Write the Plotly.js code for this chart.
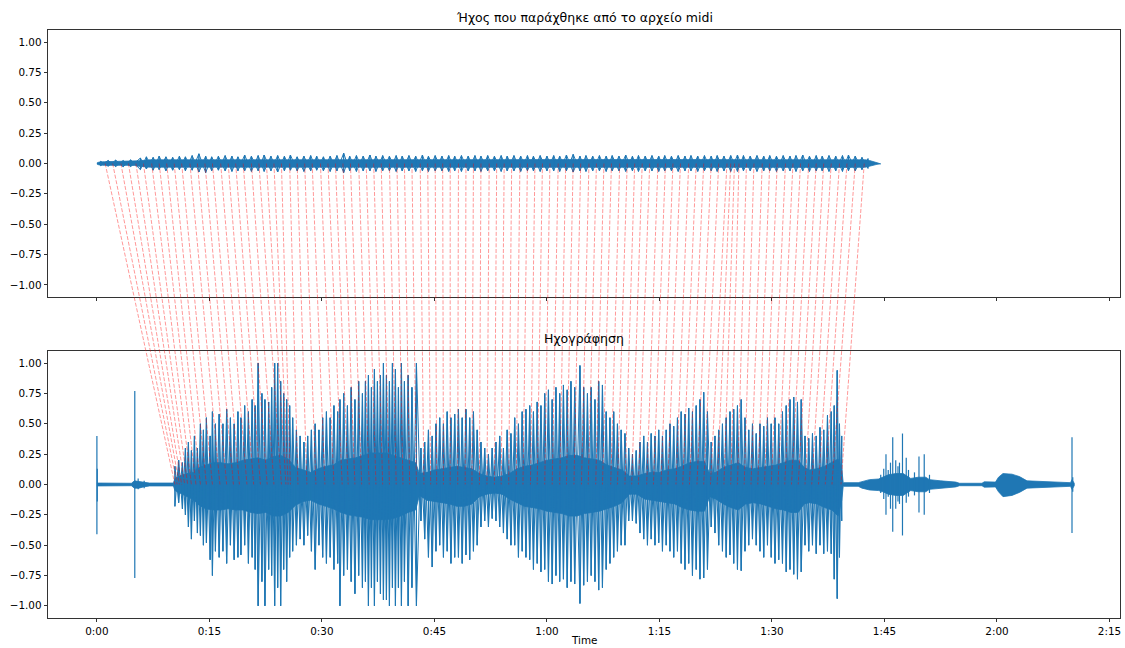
<!DOCTYPE html>
<html>
<head>
<meta charset="utf-8">
<script src="https://cdn.plot.ly/plotly-3.0.1.min.js"></script>
<style>html,body{margin:0;padding:0;background:#fff;}#chart{width:1125px;height:648px;}</style>
</head>
<body>
<div id="chart"></div>
<script>
// ---------- Titles / labels ----------
const titleMidi = "Ήχος που παράχθηκε από το αρχείο midi";
const titleRec = "Ηχογράφηση";
const xLabel = "Time";
const xTickVals = [0, 15, 30, 45, 60, 75, 90, 105, 120, 135];
const xTickText = ["0:00", "0:15", "0:30", "0:45", "1:00", "1:15", "1:30", "1:45", "2:00", "2:15"];
const yTickVals = [-1, -0.75, -0.5, -0.25, 0, 0.25, 0.5, 0.75, 1];

// ---------- MIDI-synth waveform (seconds, amplitude) ----------
const midiCoreT  = [0.0, 0.3, 1.0, 2.0, 3.0, 4.0, 5.0, 5.5, 7.0, 20.0, 40.0, 60.0, 80.0, 100.0, 102.5, 103.0, 103.5, 104.0, 104.5];
const midiCoreHi = [0.005, 0.012, 0.015, 0.016, 0.015, 0.016, 0.016, 0.022, 0.03, 0.032, 0.032, 0.032, 0.032, 0.032, 0.03, 0.025, 0.016, 0.007, 0.003];
const midiCoreLo = [-0.005, -0.012, -0.015, -0.016, -0.016, -0.015, -0.016, -0.022, -0.03, -0.032, -0.032, -0.032, -0.032, -0.032, -0.03, -0.025, -0.016, -0.007, -0.003];

const midiSpikeT  = [0.5,1.5,2.5,3.5,4.5,5.8,6.6,7.5,8.3,9.2,10.1,11.0,11.8,12.7,13.6,14.5,15.3,16.2,17.1,18.0,18.8,19.7,20.6,21.5,22.3,23.2,24.1,25.0,25.8,26.7,27.6,28.5,29.3,30.2,31.1,32.0,32.9,33.7,34.6,35.5,36.4,37.2,38.1,39.0,39.9,40.7,41.6,42.5,43.4,44.2,45.1,46.0,46.9,47.7,48.6,49.5,50.4,51.2,52.1,53.0,53.9,54.7,55.6,56.5,57.4,58.2,59.1,60.0,60.9,61.7,62.6,63.5,64.4,65.2,66.1,67.0,67.9,68.7,69.6,70.5,71.4,72.2,73.1,74.0,74.9,75.7,76.6,77.5,78.4,79.2,80.1,81.0,81.9,82.7,83.6,84.5,85.4,86.2,87.1,88.0,88.9,89.7,90.6,91.5,92.4,93.2,94.1,95.0,95.9,96.7,97.6,98.5,99.4,100.2,101.1,102.0,102.8];
const midiSpikeHi = [0.018,0.025,0.028,0.024,0.03,0.045,0.055,0.05,0.06,0.055,0.05,0.06,0.055,0.065,0.08,0.06,0.055,0.06,0.065,0.06,0.055,0.07,0.06,0.065,0.07,0.06,0.065,0.06,0.07,0.055,0.06,0.065,0.06,0.055,0.06,0.065,0.085,0.06,0.065,0.06,0.07,0.06,0.065,0.06,0.065,0.06,0.065,0.06,0.07,0.06,0.065,0.06,0.065,0.06,0.065,0.06,0.065,0.06,0.065,0.06,0.065,0.06,0.065,0.06,0.065,0.06,0.065,0.06,0.065,0.06,0.07,0.075,0.06,0.065,0.06,0.065,0.06,0.065,0.06,0.07,0.06,0.065,0.06,0.065,0.06,0.065,0.06,0.065,0.06,0.065,0.06,0.065,0.06,0.065,0.06,0.065,0.07,0.065,0.06,0.065,0.06,0.065,0.06,0.065,0.06,0.065,0.07,0.06,0.065,0.06,0.065,0.06,0.065,0.07,0.06,0.05,0.04];
const midiSpikeLo = [-0.018,-0.022,-0.025,-0.027,-0.025,-0.05,-0.045,-0.055,-0.05,-0.06,-0.055,-0.05,-0.06,-0.055,-0.07,-0.075,-0.06,-0.055,-0.06,-0.065,-0.06,-0.06,-0.065,-0.06,-0.065,-0.06,-0.07,-0.06,-0.055,-0.06,-0.065,-0.06,-0.055,-0.06,-0.065,-0.06,-0.075,-0.06,-0.065,-0.06,-0.06,-0.065,-0.06,-0.06,-0.065,-0.06,-0.06,-0.065,-0.06,-0.065,-0.06,-0.06,-0.065,-0.06,-0.065,-0.06,-0.06,-0.065,-0.06,-0.06,-0.065,-0.06,-0.06,-0.065,-0.06,-0.06,-0.065,-0.06,-0.06,-0.065,-0.06,-0.07,-0.06,-0.065,-0.06,-0.06,-0.065,-0.06,-0.06,-0.065,-0.06,-0.065,-0.06,-0.06,-0.065,-0.06,-0.06,-0.065,-0.06,-0.06,-0.065,-0.06,-0.06,-0.065,-0.06,-0.065,-0.065,-0.06,-0.06,-0.065,-0.06,-0.06,-0.065,-0.06,-0.06,-0.065,-0.06,-0.065,-0.06,-0.06,-0.065,-0.06,-0.065,-0.06,-0.06,-0.05,-0.04];

// ---------- Recording waveform ----------
// solid centre of the waveform
const recCoreT  = [0.0,4.6,5.0,5.6,6.2,7.0,10.2,10.4,11.0,12.0,13.0,13.6,14.5,15.5,16.5,17.5,18.5,19.5,20.5,21.5,22.5,23.5,24.5,25.5,26.5,27.5,28.5,29.5,30.5,31.5,32.5,33.5,34.5,35.5,36.5,37.5,38.5,39.5,40.5,41.5,42.5,43.0,44.0,45.0,46.0,47.0,48.0,49.0,50.0,51.0,52.0,53.0,54.0,55.0,56.0,57.0,58.0,59.0,60.0,61.0,62.0,63.0,64.0,65.0,66.0,67.0,68.0,69.0,70.0,71.0,72.0,73.0,74.0,75.0,76.0,77.0,78.0,79.0,80.0,81.0,81.7,82.5,83.5,84.5,85.5,86.5,87.5,88.5,89.5,90.5,91.5,92.5,93.5,94.3,95.0,96.0,97.0,98.0,98.8,99.3,99.5,101.5,102.0,103.0,104.2,104.8,105.5,106.5,107.5,108.5,109.5,110.5,111.0,112.5,114.5,115.0,118.0,118.3,119.8,120.2,120.8,122.0,123.0,124.0,127.0,129.8,130.0,130.3];
const recCoreHi = [0.012,0.01,0.03,0.025,0.02,0.012,0.012,0.05,0.07,0.09,0.1,0.14,0.16,0.18,0.18,0.17,0.18,0.2,0.21,0.22,0.2,0.23,0.24,0.21,0.14,0.12,0.1,0.13,0.15,0.16,0.2,0.21,0.22,0.24,0.26,0.26,0.26,0.24,0.22,0.2,0.18,0.09,0.1,0.12,0.13,0.14,0.15,0.14,0.13,0.09,0.07,0.06,0.07,0.09,0.13,0.15,0.16,0.18,0.2,0.21,0.22,0.24,0.24,0.22,0.21,0.2,0.16,0.14,0.12,0.07,0.07,0.09,0.1,0.1,0.12,0.13,0.15,0.18,0.19,0.19,0.09,0.1,0.14,0.16,0.18,0.14,0.13,0.14,0.15,0.16,0.18,0.2,0.2,0.14,0.12,0.13,0.15,0.18,0.21,0.13,0.015,0.015,0.025,0.04,0.045,0.06,0.08,0.09,0.09,0.05,0.06,0.06,0.04,0.03,0.02,0.01,0.01,0.022,0.02,0.06,0.09,0.085,0.065,0.03,0.02,0.015,0.04,0.01];
const recCoreLo = [-0.012,-0.01,-0.03,-0.03,-0.02,-0.012,-0.012,-0.05,-0.07,-0.1,-0.13,-0.17,-0.2,-0.21,-0.21,-0.2,-0.21,-0.21,-0.23,-0.24,-0.23,-0.26,-0.26,-0.23,-0.17,-0.14,-0.13,-0.16,-0.18,-0.2,-0.23,-0.25,-0.26,-0.27,-0.29,-0.29,-0.29,-0.28,-0.26,-0.23,-0.21,-0.09,-0.13,-0.14,-0.15,-0.16,-0.18,-0.18,-0.16,-0.1,-0.08,-0.07,-0.08,-0.12,-0.15,-0.18,-0.19,-0.2,-0.22,-0.23,-0.24,-0.26,-0.26,-0.24,-0.23,-0.22,-0.2,-0.18,-0.15,-0.08,-0.08,-0.12,-0.13,-0.14,-0.15,-0.16,-0.19,-0.21,-0.22,-0.22,-0.1,-0.12,-0.16,-0.19,-0.21,-0.16,-0.15,-0.16,-0.18,-0.2,-0.21,-0.23,-0.23,-0.16,-0.15,-0.16,-0.19,-0.21,-0.26,-0.13,-0.015,-0.015,-0.03,-0.045,-0.05,-0.06,-0.08,-0.09,-0.09,-0.05,-0.06,-0.06,-0.04,-0.03,-0.02,-0.01,-0.01,-0.022,-0.02,-0.06,-0.1,-0.09,-0.065,-0.03,-0.02,-0.015,-0.04,-0.01];

// oscillation peaks through the loud section (drawn as a continuous waveform)
const recBurstT  = [10.4,10.9,11.4,11.8,12.2,12.6,13.0,13.4,13.8,14.2,14.6,15.1,15.4,15.8,16.3,16.8,17.3,17.8,18.3,18.8,19.2,19.7,20.2,20.7,21.1,21.5,22.0,22.4,22.9,23.3,23.7,24.1,24.5,24.9,25.3,25.7,26.1,26.6,27.1,27.6,28.1,28.6,29.1,29.6,30.1,30.6,31.1,31.6,32.1,32.4,32.9,33.4,33.9,34.4,34.9,35.4,35.8,36.2,36.6,37.0,37.4,37.8,38.2,38.6,39.0,39.4,39.8,40.2,40.6,41.0,41.5,42.0,42.6,43.2,43.7,44.2,44.7,45.2,45.7,46.2,46.7,47.2,47.7,48.2,48.7,49.2,49.7,50.2,50.7,51.2,51.7,52.2,52.7,53.2,53.7,54.2,54.7,55.2,55.7,56.2,56.7,57.2,57.7,58.2,58.7,59.2,59.7,60.2,60.7,61.2,61.7,62.2,62.7,63.2,63.7,64.4,64.9,65.4,65.9,66.4,66.9,67.4,67.9,68.4,68.9,69.4,69.9,70.4,70.9,71.4,71.9,72.4,72.9,73.4,73.9,74.4,74.9,75.4,75.9,76.4,76.9,77.4,77.9,78.4,78.9,79.4,79.9,80.4,80.9,81.4,81.9,82.4,82.9,83.4,83.9,84.4,84.9,85.4,85.9,86.4,86.9,87.4,87.9,88.4,88.9,89.4,89.9,90.4,90.9,91.4,91.9,92.4,92.9,93.4,93.9,94.4,94.9,95.4,95.9,96.4,96.9,97.4,97.9,98.3,98.7,99.0,99.3];
const recBurstHi = [0.15,0.2,0.18,0.3,0.35,0.28,0.4,0.3,0.5,0.45,0.55,0.4,0.6,0.5,0.58,0.5,0.62,0.55,0.5,0.6,0.55,0.65,0.6,0.7,0.65,1.0,0.75,0.7,0.68,0.8,1.0,1.0,0.85,0.75,0.7,0.65,0.55,0.45,0.4,0.35,0.4,0.45,0.5,0.45,0.55,0.6,0.55,0.65,0.6,0.7,0.75,0.65,0.8,0.7,0.85,0.75,0.85,0.9,0.8,0.95,0.85,0.9,1.0,0.9,0.85,1.0,0.95,0.8,1.0,0.85,0.9,0.8,1.0,0.3,0.35,0.45,0.4,0.5,0.55,0.5,0.6,0.55,0.58,0.62,0.55,0.62,0.55,0.6,0.45,0.35,0.3,0.25,0.3,0.35,0.4,0.3,0.45,0.42,0.55,0.5,0.6,0.62,0.65,0.6,0.68,0.65,0.75,0.78,0.7,0.8,0.75,0.82,0.78,0.85,0.8,0.98,0.8,0.75,0.8,0.7,0.85,0.82,0.6,0.55,0.6,0.5,0.45,0.42,0.3,0.25,0.28,0.35,0.4,0.35,0.42,0.4,0.45,0.4,0.45,0.5,0.48,0.55,0.6,0.58,0.63,0.6,0.65,0.7,0.76,0.6,0.35,0.4,0.45,0.5,0.55,0.6,0.62,0.65,0.7,0.55,0.45,0.5,0.42,0.5,0.48,0.55,0.5,0.55,0.5,0.6,0.65,0.7,0.72,0.68,0.7,0.4,0.38,0.42,0.4,0.47,0.45,0.57,0.6,0.65,0.94,0.5,0.4];
const recBurstLo = [-0.18,-0.15,-0.2,-0.25,-0.35,-0.45,-0.3,-0.4,-0.42,-0.5,-0.48,-0.62,-0.75,-0.55,-0.6,-0.55,-0.65,-0.5,-0.62,-0.6,-0.58,-0.5,-0.65,-0.6,-0.7,-1.0,-0.8,-1.0,-0.7,-0.75,-1.0,-0.85,-1.0,-0.7,-0.8,-0.6,-0.55,-0.5,-0.45,-0.5,-0.42,-0.55,-0.7,-0.5,-0.6,-0.65,-0.6,-0.7,-0.65,-1.0,-0.75,-0.7,-0.8,-0.9,-0.75,-0.85,-0.8,-1.0,-0.85,-1.0,-0.8,-0.9,-0.95,-0.95,-1.0,-0.85,-1.0,-0.85,-1.0,-0.8,-1.0,-0.85,-1.0,-0.3,-0.45,-0.6,-0.68,-0.55,-0.5,-0.6,-0.55,-0.65,-0.6,-0.6,-0.65,-0.58,-0.62,-0.55,-0.5,-0.35,-0.3,-0.35,-0.28,-0.3,-0.35,-0.4,-0.45,-0.5,-0.5,-0.6,-0.55,-0.6,-0.62,-0.7,-0.65,-0.72,-0.7,-0.8,-0.82,-0.75,-0.8,-0.78,-0.85,-0.8,-0.82,-0.98,-0.83,-0.8,-0.75,-0.8,-0.87,-0.85,-0.7,-0.65,-0.6,-0.55,-0.5,-0.5,-0.3,-0.3,-0.32,-0.4,-0.45,-0.5,-0.45,-0.5,-0.48,-0.55,-0.5,-0.55,-0.6,-0.55,-0.65,-0.7,-0.65,-0.75,-0.7,-0.78,-0.77,-0.7,-0.35,-0.4,-0.5,-0.55,-0.6,-0.58,-0.65,-0.7,-0.71,-0.55,-0.5,-0.45,-0.5,-0.55,-0.6,-0.5,-0.6,-0.65,-0.62,-0.65,-0.72,-0.7,-0.74,-0.78,-0.72,-0.5,-0.55,-0.5,-0.57,-0.5,-0.57,-0.55,-0.57,-0.78,-0.94,-0.6,-0.3];

// isolated clicks / transients outside the loud section
const recClickT  = [0.0,0.05,5.05,5.5,6.3,104.5,104.9,105.2,105.5,105.8,106.1,106.5,106.8,107.0,107.4,107.9,108.2,109.0,109.6,110.3,111.0,130.0,130.1];
const recClickHi = [0.40,0.13,0.77,0.05,0.03,0.08,0.13,0.25,0.12,0.18,0.39,0.2,0.15,0.18,0.42,0.22,0.12,0.1,0.23,0.25,0.08,0.39,0.06];
const recClickLo = [-0.41,-0.14,-0.77,-0.04,-0.03,-0.07,-0.12,-0.25,-0.1,-0.2,-0.39,-0.2,-0.14,-0.16,-0.42,-0.15,-0.1,-0.09,-0.23,-0.25,-0.07,-0.4,-0.06];

// ---------- Alignment (midi time -> recording time), seconds ----------
const alignMidiT = [1.1,2.1,3.2,4.2,5.2,6.2,7.3,8.3,9.3,10.3,11.3,12.4,13.4,14.4,15.4,16.5,17.5,18.5,19.5,20.6,21.6,22.6,23.6,24.6,25.7,26.7,27.7,28.7,29.8,30.8,31.8,32.8,33.8,34.9,35.9,36.9,37.9,39.0,40.0,41.0,42.0,43.1,44.1,45.1,46.1,47.1,48.2,49.2,50.2,51.2,52.3,53.3,54.3,55.3,56.4,57.4,58.4,59.4,60.4,61.5,62.5,63.5,64.5,65.6,66.6,67.6,68.6,69.7,70.7,71.7,72.7,73.7,74.8,75.8,76.8,77.8,78.9,79.9,80.9,81.9,82.9,84.0,84.5,85.0,85.6,86.6,87.6,88.7,89.7,90.7,91.8,92.8,93.8,94.9,95.9,96.9,97.9,99.0,100.0,101.1,102.3];
const alignRecT  = [10.4,10.7,11.0,11.3,11.7,12.1,12.6,13.2,13.8,14.6,15.4,16.4,17.3,18.2,19.0,20.0,20.9,21.8,22.7,23.6,24.6,25.2,25.5,25.8,26.8,28.0,29.2,30.4,31.6,32.7,33.5,34.4,35.3,36.3,37.2,38.1,39.0,39.9,40.8,41.7,42.6,43.6,44.5,45.3,46.2,47.1,48.1,49.1,50.0,51.0,52.0,53.0,53.9,54.9,55.9,56.8,57.8,58.7,59.7,60.7,61.7,62.6,63.6,64.6,65.5,66.5,67.4,68.5,69.4,70.4,71.3,72.2,73.3,74.2,75.2,76.1,77.2,78.1,79.0,80.0,80.9,81.8,82.7,83.6,84.5,85.4,86.3,87.2,88.1,89.0,89.9,90.8,91.7,92.6,93.5,94.4,95.3,96.2,97.1,98.0,99.2];

// ---------- Build ----------
const BLUE = '#1f77b4';
function coreTrace(t, hi, lo, xa, ya) {
  return {
    x: t.concat(t.slice().reverse()),
    y: hi.concat(lo.slice().reverse()),
    xaxis: xa, yaxis: ya, type: 'scatter', mode: 'lines',
    fill: 'toself', fillcolor: BLUE, line: {color: BLUE, width: 0.8},
    hoverinfo: 'skip', showlegend: false
  };
}
// continuous oscillation through the peaks; upFirst picks the order of each peak pair
function waveTrace(t, hi, lo, xa, ya, w, maxGap, upFirst) {
  const xs = [], ys = [];
  for (let i = 0; i < t.length; i++) {
    if (i > 0 && t[i] - t[i - 1] > maxGap) { xs.push(null); ys.push(null); }
    xs.push(t[i], t[i]);
    if (upFirst) ys.push(hi[i], lo[i]); else ys.push(lo[i], hi[i]);
  }
  return {x: xs, y: ys, xaxis: xa, yaxis: ya, type: 'scatter', mode: 'lines',
    line: {color: BLUE, width: w}, hoverinfo: 'skip', showlegend: false, connectgaps: false};
}
function clickTrace(t, hi, lo, xa, ya, w) {
  const xs = [], ys = [];
  for (let i = 0; i < t.length; i++) { xs.push(t[i], t[i], null); ys.push(hi[i], lo[i], null); }
  return {x: xs, y: ys, xaxis: xa, yaxis: ya, type: 'scatter', mode: 'lines',
    line: {color: BLUE, width: w}, hoverinfo: 'skip', showlegend: false, connectgaps: false};
}

const data = [
  coreTrace(midiCoreT, midiCoreHi, midiCoreLo, 'x2', 'y2'),
  waveTrace(midiSpikeT, midiSpikeHi, midiSpikeLo, 'x2', 'y2', 1.0, 1.5, true),
  waveTrace(midiSpikeT, midiSpikeHi, midiSpikeLo, 'x2', 'y2', 1.0, 1.5, false),
  coreTrace(recCoreT, recCoreHi, recCoreLo, 'x', 'y'),
  waveTrace(recBurstT, recBurstHi, recBurstLo, 'x', 'y', 1.0, 1.0, true),
  waveTrace(recBurstT, recBurstHi, recBurstLo, 'x', 'y', 1.0, 1.0, false),
  clickTrace(recClickT, recClickHi, recClickLo, 'x', 'y', 1.2)
];

const yRange = [-1.1, 1.1];
const topDomain = [0.5459, 1];
const botDomain = [0, 0.4541];
function paperY(dom, v) { return dom[0] + (v - yRange[0]) / (yRange[1] - yRange[0]) * (dom[1] - dom[0]); }

const shapes = alignMidiT.map((tm, i) => ({
  type: 'line', xref: 'x', yref: 'paper',
  x0: tm, y0: paperY(topDomain, 0), x1: alignRecT[i], y1: paperY(botDomain, 0),
  line: {color: 'rgba(255,0,0,0.45)', width: 0.9, dash: '4px,1.7px'}, layer: 'above'
}));

const FONT = 'DejaVu Sans, sans-serif';
const axisCommon = {
  showgrid: false, zeroline: false, showline: true, mirror: true,
  linecolor: '#000', linewidth: 0.8, ticks: 'outside', ticklen: 3.6, tickwidth: 0.8, tickcolor: '#000',
  tickfont: {family: FONT, size: 10.4, color: '#000'}
};
const xRange = [-6.52, 136.4];

const layout = {
  width: 1125, height: 648,
  margin: {l: 48, r: 5, t: 30, b: 30},
  paper_bgcolor: '#fff', plot_bgcolor: '#fff',
  showlegend: false,
  xaxis: Object.assign({}, axisCommon, {domain: [0, 1], range: xRange, anchor: 'y',
    tickmode: 'array', tickvals: xTickVals, ticktext: xTickText}),
  yaxis: Object.assign({}, axisCommon, {domain: botDomain, range: yRange, anchor: 'x',
    tickmode: 'array', tickvals: yTickVals, tickformat: '.2f'}),
  xaxis2: Object.assign({}, axisCommon, {domain: [0, 1], range: xRange, anchor: 'y2', matches: 'x',
    tickmode: 'array', tickvals: xTickVals, showticklabels: false}),
  yaxis2: Object.assign({}, axisCommon, {domain: topDomain, range: yRange, anchor: 'x2',
    tickmode: 'array', tickvals: yTickVals, tickformat: '.2f'}),
  shapes: shapes,
  annotations: [
    {text: titleMidi, xref: 'paper', yref: 'paper', x: 0.5, y: topDomain[1], yanchor: 'bottom', xanchor: 'center',
     yshift: 3, showarrow: false, font: {family: FONT, size: 12.5, color: '#000'}},
    {text: titleRec, xref: 'paper', yref: 'paper', x: 0.5, y: botDomain[1], yanchor: 'bottom', xanchor: 'center',
     yshift: 3, showarrow: false, font: {family: FONT, size: 12.5, color: '#000'}},
    {text: xLabel, xref: 'paper', yref: 'paper', x: 0.5, y: 0, yanchor: 'middle', xanchor: 'center',
     yshift: -22, showarrow: false, font: {family: FONT, size: 10.4, color: '#000'}}
  ]
};

Plotly.newPlot('chart', data, layout, {staticPlot: true, displayModeBar: false});
</script>
</body>
</html>
